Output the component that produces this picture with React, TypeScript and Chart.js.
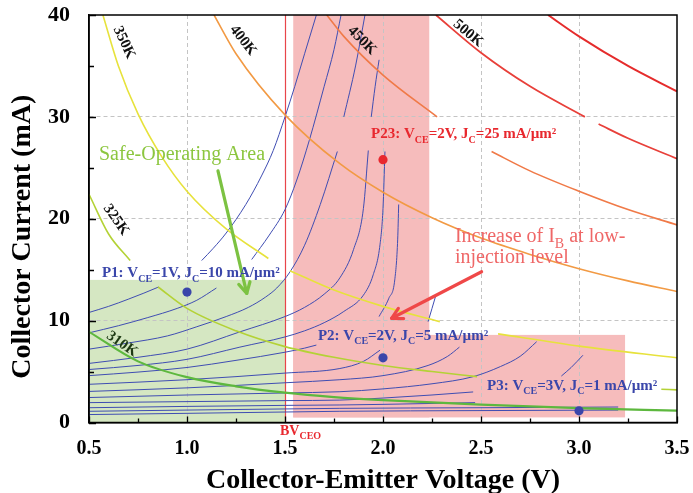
import React, { useEffect, useRef } from 'react';
import { Chart, registerables } from 'chart.js';
Chart.register(...registerables);

type Pt = [number, number | null];

const FONT = '"Liberation Serif", "Times New Roman", serif';

// ---- axes ----
const xMin = 0.5, xMax = 3.5, xStep = 0.5, xMinor = 0.25;
const yMin = 0, yMax = 40, yStep = 10, yMinor = 5;

// ---- isotherms (V, mA) ----
const iso310K: Pt[] = [[0.5, 8.9], [0.75, 6.0], [1.0, 4.45], [1.25, 3.55], [1.5, 2.93], [1.75, 2.5], [2.0, 2.2], [2.5, 1.75], [3.0, 1.42], [3.5, 1.16]];
const iso325K: Pt[] = [[0.5, 22.4], [0.6, 18.5], [0.71, 15.9], [0.78, null], [0.852, 13.3], [1.0, 11.2], [1.25, 9.0], [1.5, 7.45], [1.75, 6.4], [2.0, 5.6], [2.25, 5.0], [2.48, 4.5], [3.0, null], [3.42, 3.27], [3.5, 3.2]];
const iso350K: Pt[] = [[0.571, 40], [0.65, 35], [0.75, 30.3], [0.871, 26.1], [1.0, 22.7], [1.2, 19.0], [1.415, 16.1], [1.47, null], [1.525, 14.9], [1.75, 13.0], [2.0, 11.4], [2.29, 9.9], [2.45, null], [2.587, 8.7], [3.0, 7.5], [3.5, 6.36]];
const iso400K: Pt[] = [[1.138, 40], [1.25, 36.2], [1.5, 30.2], [1.78, 25.4], [2.0, 22.6], [2.25, 20.1], [2.5, 18.1], [2.75, 16.5], [3.0, 15.1], [3.25, 13.9], [3.5, 12.85]];
const iso450K: Pt[] = [[1.713, 40], [1.8, 37.9], [2.0, 34.1], [2.276, 30.0], [2.42, null], [2.554, 26.6], [2.75, 24.7], [3.0, 22.7], [3.25, 20.9], [3.5, 19.4]];
const iso500K: Pt[] = [[2.27, 40], [2.5, 36.3], [2.75, 33.0], [3.03, 30.0], [3.065, null], [3.1, 29.3], [3.25, 27.9], [3.5, 25.9]];
const iso550K: Pt[] = [[2.842, 40], [3.0, 37.9], [3.25, 35.0], [3.5, 32.5]];

// ---- output characteristics (V, mA) ----
const curveA: Pt[] = [[0.5, 10.8], [0.6, 11.4], [0.7, 12.1], [0.78, 12.7], [0.855, 13.3], [0.95, null], [1.075, 15.9], [1.134, 17.1], [1.2, 18.6], [1.3, 21.4], [1.38, 24.2], [1.44, 26.7], [1.5, 30.0], [1.55, 33.0], [1.6, 36.2], [1.66, 40]];
const curveB: Pt[] = [[0.5, 8.8], [0.65, 9.5], [0.8, 10.3], [0.95, 11.2], [1.05, 12.0], [1.15, 13.2], [1.24, null], [1.33, 16.0], [1.42, 18.4], [1.5, 20.9], [1.56, 23.8], [1.624, 27.7], [1.7, 33.0], [1.75, 36.6], [1.786, 40]];
const curveC: Pt[] = [[0.5, 7.2], [0.7, 7.8], [0.9, 8.5], [1.05, 9.4], [1.2, 10.4], [1.313, 11.3], [1.4, 12.3], [1.458, 13.2], [1.526, 14.8], [1.6, 17.4], [1.68, 21.4], [1.767, 26.6], [1.785, null], [1.8, 30.0], [1.86, 35.0], [1.908, 40]];
const curveD: Pt[] = [[0.5, 5.8], [0.75, 6.4], [1.0, 7.2], [1.27, 8.9], [1.5, 10.4], [1.6, 11.3], [1.7, 12.6], [1.78, 14.2], [1.85, 17.0], [1.9, 21.0], [1.925, 26.7], [1.933, null], [1.94, 30.0], [1.96, 33.0], [1.98, 35.6]];
const curveE: Pt[] = [[0.5, 5.2], [0.75, 5.6], [1.0, 6.2], [1.27, 7.4], [1.5, 8.4], [1.6, 9.0], [1.7, 9.8], [1.8, 10.9], [1.9, 12.5], [1.95, 14.5], [1.985, 17.5], [2.0, 21.0], [2.01, 26.6]];
const curveF: Pt[] = [[0.5, 4.6], [0.75, 4.95], [1.0, 5.4], [1.25, 6.1], [1.5, 6.9], [1.6, 7.3], [1.66, 7.6], [1.8, null], [1.98, 10.4], [2.03, 12.2], [2.06, 14.0], [2.075, 18.0], [2.08, 21.4]];
const curveG: Pt[] = [[0.5, 3.75], [1.0, 4.2], [1.5, 4.85], [1.78, 5.3], [1.9, 6.0], [1.985, 7.1], [2.1, null], [2.23, 9.9], [2.25, 11.2], [2.27, 12.5]];
const curveH: Pt[] = [[0.5, 3.05], [1.0, 3.4], [1.5, 3.9], [1.78, 4.2], [2.0, 4.6], [2.23, 5.6], [2.33, 6.5], [2.39, 7.4]];
const curveI: Pt[] = [[0.5, 2.45], [1.0, 2.7], [1.5, 2.9], [1.78, 3.02], [2.0, 3.3], [2.25, 3.8], [2.46, 4.5], [2.6, 5.5], [2.7, 6.5], [2.784, 7.93]];
const curveJ: Pt[] = [[0.5, 1.95], [1.0, 2.05], [1.5, 2.15], [1.78, 2.2], [2.0, 2.4], [2.25, 2.7], [2.46, 3.0], [2.7, null], [2.91, 4.56], [2.96, 5.4], [3.02, 6.6]];
const curveK: Pt[] = [[0.5, 1.45], [1.0, 1.58], [1.5, 1.68], [1.78, 1.72], [2.0, 1.78], [2.47, 1.95]];
const curveL: Pt[] = [[0.5, 1.1], [1.0, 1.22], [1.5, 1.33], [1.78, 1.39], [2.5, 1.45], [3.2, 1.52]];
const curveM: Pt[] = [[0.5, 0.78], [1.0, 0.9], [1.5, 1.03], [1.78, 1.1], [2.5, 1.17], [3.2, 1.22]];

// ---- operating points ----
const opNames = ['P1', 'P2', 'P3', 'P23'];
const opV = [1.0, 2.0, 3.0, 2.0];
const opI = [12.8, 6.35, 1.15, 25.8];

// ---- regions [Vmin, Vmax, Imin, Imax] ----
const soaRegion = [0.5, 1.5, 0, 14];
const pinkColumn = [1.542, 2.236, 0.5, 40];
const pinkLow = [1.542, 3.235, 0.5, 8.6];
const bvceoV = 1.5;

// ---- styles / annotation config ----
const BLUE = '#3f4db2';
const isoStyles: [Pt[], string, number][] = [
  [iso310K, '#5db83e', 2.2],
  [iso325K, '#b4d236', 1.6],
  [iso350K, '#e7e23c', 1.6],
  [iso400K, '#f29a44', 1.6],
  [iso450K, '#f07a48', 1.6],
  [iso500K, '#e8403a', 1.8],
  [iso550K, '#e52c2c', 2.0],
];
const blueCurves = [curveA, curveB, curveC, curveD, curveE, curveF, curveG, curveH, curveI, curveJ, curveK, curveL, curveM];

const tempLabels = [
  { text: '350K', v: 0.679, i: 37.3, angle: 65, color: '#111' },
  { text: '400K', v: 1.286, i: 37.5, angle: 52, color: '#111' },
  { text: '450K', v: 1.893, i: 37.5, angle: 45, color: '#111' },
  { text: '500K', v: 2.434, i: 38.2, angle: 40, color: '#111' },
  { text: '325K', v: 0.638, i: 19.9, angle: 55, color: '#111' },
  { text: '310K', v: 0.668, i: 7.7, angle: 35, color: '#1e3a14' },
];

type Part = [string, boolean];
const opLabels: { parts: Part[]; v: number; i: number; color: string }[] = [
  { parts: [['P1: V', false], ['CE', true], ['=1V, J', false], ['C', true], ['=10 mA/µm²', false]], v: 0.566, i: 14.28, color: '#3a46aa' },
  { parts: [['P2: V', false], ['CE', true], ['=2V, J', false], ['C', true], ['=5 mA/µm²', false]], v: 1.668, i: 8.1, color: '#3a46aa' },
  { parts: [['P3: V', false], ['CE', true], ['=3V, J', false], ['C', true], ['=1 mA/µm²', false]], v: 2.531, i: 3.2, color: '#3a46aa' },
  { parts: [['P23: V', false], ['CE', true], ['=2V, J', false], ['C', true], ['=25 mA/µm²', false]], v: 1.939, i: 27.9, color: '#e8282e' },
];
const opColors = ['#3a46aa', '#3a46aa', '#3a46aa', '#e8282e'];

function drawRich(ctx: CanvasRenderingContext2D, parts: Part[], x: number, y: number, size: number, weight: string, color: string) {
  let cx = x;
  ctx.fillStyle = color;
  ctx.textAlign = 'left';
  ctx.textBaseline = 'alphabetic';
  for (const [t, sub] of parts) {
    const fs = sub ? Math.round(size * 0.68) : size;
    ctx.font = `${weight} ${fs}px ${FONT}`;
    ctx.fillText(t, cx, sub ? y + size * 0.3 : y);
    cx += ctx.measureText(t).width;
  }
}

function arrow(ctx: CanvasRenderingContext2D, x0: number, y0: number, x1: number, y1: number, color: string, w: number, head: number) {
  const a = Math.atan2(y1 - y0, x1 - x0);
  ctx.save();
  ctx.strokeStyle = color;
  ctx.lineWidth = w;
  ctx.lineCap = 'round';
  ctx.lineJoin = 'round';
  ctx.beginPath();
  ctx.moveTo(x0, y0);
  ctx.lineTo(x1, y1);
  ctx.stroke();
  ctx.beginPath();
  ctx.moveTo(x1 - head * Math.cos(a - 0.5), y1 - head * Math.sin(a - 0.5));
  ctx.lineTo(x1, y1);
  ctx.lineTo(x1 - head * Math.cos(a + 0.5), y1 - head * Math.sin(a + 0.5));
  ctx.stroke();
  ctx.restore();
}

const overlay = {
  id: 'overlay',
  beforeDraw(chart: any) {
    const { ctx, scales: { x, y } } = chart;
    const rect = (r: number[], color: string) => {
      const x0 = x.getPixelForValue(r[0]), x1 = x.getPixelForValue(r[1]);
      const y0 = y.getPixelForValue(r[3]), y1 = y.getPixelForValue(r[2]);
      ctx.fillStyle = color;
      ctx.fillRect(x0, y0, x1 - x0, y1 - y0);
    };
    ctx.save();
    rect(soaRegion, '#d5e7c2');
    rect(pinkColumn, '#f6bcbc');
    rect(pinkLow, '#f6bcbc');
    ctx.restore();
  },
  beforeDatasetsDraw(chart: any) {
    const { ctx, scales: { x, y } } = chart;
    const bx = Math.round(x.getPixelForValue(bvceoV)) + 0.5;
    ctx.save();
    ctx.strokeStyle = '#e8454a';
    ctx.lineWidth = 1.2;
    ctx.beginPath();
    ctx.moveTo(bx, y.getPixelForValue(yMax));
    ctx.lineTo(bx, y.getPixelForValue(yMin));
    ctx.stroke();
    ctx.restore();
  },
  afterDatasetsDraw(chart: any) {
    const { ctx, scales: { x, y } } = chart;
    const X = (v: number) => x.getPixelForValue(v);
    const Y = (v: number) => y.getPixelForValue(v);
    ctx.save();
    opV.forEach((v, k) => {
      ctx.fillStyle = opColors[k];
      ctx.beginPath();
      ctx.arc(X(v), Y(opI[k]), 4.6, 0, Math.PI * 2);
      ctx.fill();
    });
    arrow(ctx, X(1.158), Y(24.7), X(1.305), Y(12.68), '#7cc242', 3.2, 12);
    arrow(ctx, X(2.503), Y(14.8), X(2.044), Y(10.23), '#ef4848', 3.2, 12);
    for (const t of tempLabels) {
      ctx.save();
      ctx.translate(X(t.v), Y(t.i));
      ctx.rotate((t.angle * Math.PI) / 180);
      ctx.font = `bold 15px ${FONT}`;
      ctx.fillStyle = t.color;
      ctx.textAlign = 'center';
      ctx.textBaseline = 'middle';
      ctx.fillText(t.text, 0, 0);
      ctx.restore();
    }
    for (const l of opLabels) drawRich(ctx, l.parts, X(l.v), Y(l.i), 15, 'bold', l.color);
    ctx.font = `20px ${FONT}`;
    ctx.fillStyle = '#8cc63f';
    ctx.textAlign = 'left';
    ctx.textBaseline = 'alphabetic';
    ctx.fillText('Safe-Operating Area', X(0.551), Y(25.76));
    drawRich(ctx, [['Increase of I', false], ['B', true], [' at low-', false]], X(2.367), Y(17.74), 20, 'normal', '#ef6767');
    drawRich(ctx, [['injection level', false]], X(2.367), Y(15.65), 20, 'normal', '#ef6767');
    ctx.restore();
  },
  afterDraw(chart: any) {
    const { ctx, chartArea: a, scales: { x, y } } = chart;
    ctx.save();
    ctx.strokeStyle = '#000';
    ctx.lineWidth = 1.5;
    ctx.strokeRect(a.left, a.top, a.right - a.left, a.bottom - a.top);
    ctx.lineWidth = 1.3;
    ctx.beginPath();
    for (let v = xMin; v <= xMax + 1e-9; v += xMinor) {
      const major = Math.abs(v / xStep - Math.round(v / xStep)) < 1e-6;
      const px = Math.round(x.getPixelForValue(v)) + 0.5;
      ctx.moveTo(px, a.bottom);
      ctx.lineTo(px, a.bottom - (major ? 6 : 4));
    }
    for (let v = yMin; v <= yMax + 1e-9; v += yMinor) {
      const major = Math.abs(v / yStep - Math.round(v / yStep)) < 1e-6;
      const py = Math.round(y.getPixelForValue(v)) + 0.5;
      ctx.moveTo(a.left, py);
      ctx.lineTo(a.left + (major ? 7 : 5), py);
    }
    ctx.stroke();
    drawRich(ctx, [['BV', false], ['CEO', true]], x.getPixelForValue(1.4745), a.bottom + 12.5, 14, 'bold', '#e8282e');
    ctx.fillStyle = '#000';
    ctx.font = `bold 28px ${FONT}`;
    ctx.textAlign = 'center';
    ctx.textBaseline = 'alphabetic';
    ctx.fillText('Collector-Emitter Voltage (V)', (a.left + a.right) / 2, 488);
    ctx.save();
    ctx.translate(30, (a.top + a.bottom) / 2 + 18);
    ctx.rotate(-Math.PI / 2);
    ctx.fillText('Collector Current (mA)', 0, 0);
    ctx.restore();
    ctx.restore();
  },
};

export default function App() {
  const ref = useRef<HTMLCanvasElement | null>(null);
  useEffect(() => {
    document.body.style.margin = '0';
    const canvas = ref.current!;
    const datasets: any[] = [];
    for (const [pts, color, w] of isoStyles) {
      datasets.push({
        data: pts.map(([v, i]) => ({ x: v, y: i })),
        borderColor: color, borderWidth: w, pointRadius: 0, fill: false,
        cubicInterpolationMode: 'monotone', spanGaps: false,
      });
    }
    for (const pts of blueCurves) {
      datasets.push({
        data: pts.map(([v, i]) => ({ x: v, y: i })),
        borderColor: BLUE, borderWidth: 1, pointRadius: 0, fill: false,
        cubicInterpolationMode: 'monotone', spanGaps: false,
      });
    }
    const tickFontX = { family: FONT, size: 20, weight: 'bold' as const };
    const tickFontY = { family: FONT, size: 22, weight: 'bold' as const };
    const chart = new Chart(canvas, {
      type: 'line',
      data: { datasets },
      options: {
        animation: false,
        responsive: false,
        devicePixelRatio: 1,
        layout: { padding: { left: 0, right: 16, top: 15, bottom: 0 } },
        plugins: { legend: { display: false }, tooltip: { enabled: false } },
        scales: {
          x: {
            type: 'linear', min: xMin, max: xMax,
            ticks: { stepSize: xStep, color: '#000', font: tickFontX, padding: 14, maxRotation: 0, autoSkip: false,
              callback: (v: any) => Number(v).toFixed(1) },
            grid: { drawTicks: false, lineWidth: 1,
              color: (c: any) => (c.tick && (c.tick.value <= xMin + 1e-6 || c.tick.value >= xMax - 1e-6) ? 'rgba(0,0,0,0)' : '#c4c4c4') },
            border: { display: true, color: '#000', width: 1.5, dash: [4, 3] },
            title: { display: false, text: 'Collector-Emitter Voltage (V)' },
            afterFit: (s: any) => { s.height = 70.5; s.paddingLeft = 0; s.paddingRight = 0; },
          },
          y: {
            type: 'linear', min: yMin, max: yMax,
            ticks: { stepSize: yStep, color: '#000', font: tickFontY, padding: 19 },
            grid: { drawTicks: false, lineWidth: 1,
              color: (c: any) => (c.tick && (c.tick.value <= yMin + 1e-6 || c.tick.value >= yMax - 1e-6) ? 'rgba(0,0,0,0)' : '#c4c4c4') },
            border: { display: true, color: '#000', width: 1.5, dash: [4, 3] },
            title: { display: false, text: 'Collector Current (mA)' },
            afterFit: (s: any) => { s.width = 89; s.paddingTop = 0; s.paddingBottom = 0; },
          },
        },
      },
      plugins: [overlay],
    } as any);
    return () => chart.destroy();
  }, []);
  return (
    <div style={{ width: 693, height: 493 }}>
      <canvas ref={ref} width={693} height={493} style={{ display: 'block' }} />
    </div>
  );
}
